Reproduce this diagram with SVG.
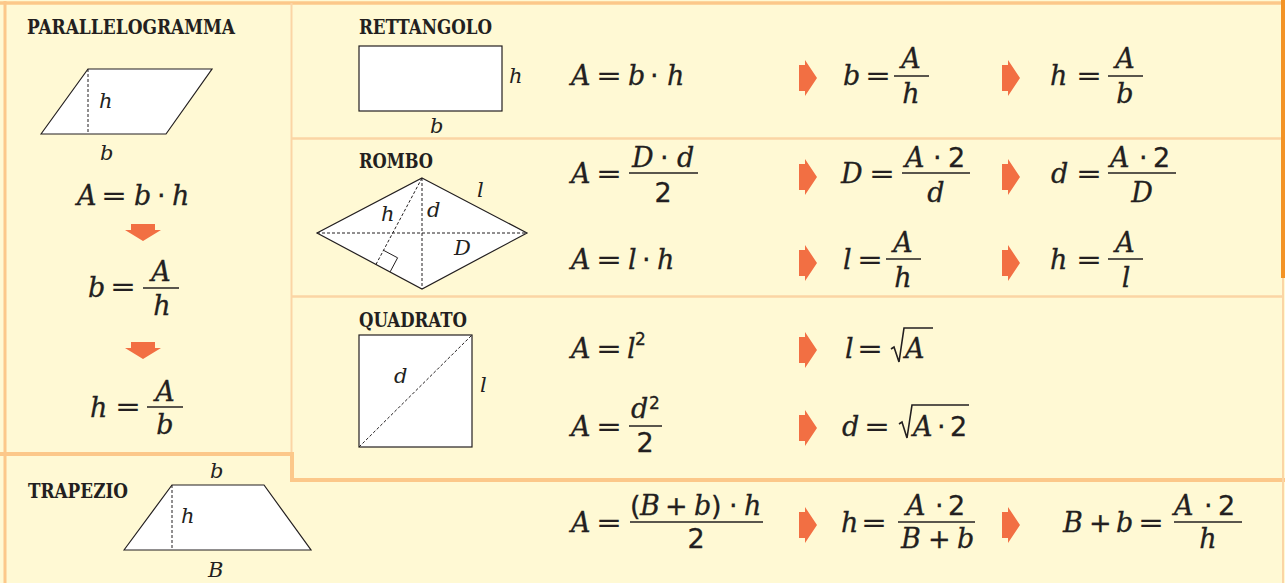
<svg xmlns="http://www.w3.org/2000/svg" xmlns:xlink="http://www.w3.org/1999/xlink" width="1285" height="583" viewBox="0 0 1285 583">
<style>
.lab{font-family:"DejaVu Serif Condensed","DejaVu Serif",serif;font-weight:bold;font-size:20px;fill:#231F20}
.v{font-family:"DejaVu Serif","Liberation Serif",serif;font-style:italic;font-size:27px;fill:#231F20;stroke:#231F20;stroke-width:0.3}
.s{font-family:"DejaVu Serif","Liberation Serif",serif;font-style:italic;font-size:21px;fill:#231F20}
.u{font-family:"DejaVu Sans","Liberation Sans",sans-serif;font-style:normal}
.eq{font-family:"DejaVu Sans","Liberation Sans",sans-serif;font-size:27px;fill:#231F20}
.sup{font-family:"DejaVu Sans","Liberation Sans",sans-serif;font-style:normal;font-size:17px}
.sh{fill:#fff;stroke:#231F20;stroke-width:1.2}
.dash{fill:none;stroke:#231F20;stroke-width:1;stroke-dasharray:3 2}
.fl{stroke:#231F20;stroke-width:1.3}
.rad{fill:none;stroke:#231F20;stroke-width:1.6;stroke-linejoin:miter}
.bd{stroke:#FCC88A;fill:none}
.ar{fill:#F26F43}
</style>
<defs>
<polygon id="ra" points="0,-13 6,-13 6,-18 18,0 6,18 6,13 0,13"/>
<polygon id="da" points="-12,0 12,0 12,6 18,6 0,17 -18,6 -12,6"/>
</defs>
<rect x="0" y="0" width="1285" height="583" fill="#FFF9D4"/>
<g id="borders">
<line class="bd" x1="0" y1="3" x2="1283" y2="3" stroke-width="3.5"/>
<line class="bd" x1="5" y1="1" x2="5" y2="583" stroke-width="3"/>
<line x1="291.5" y1="3" x2="291.5" y2="480" stroke="#FBD5A5" stroke-width="2"/>
<line x1="291" y1="138.5" x2="1282" y2="138.5" stroke="#FBD5A5" stroke-width="2.5"/>
<line x1="291" y1="296.5" x2="1282" y2="296.5" stroke="#FBD5A5" stroke-width="2.5"/>
<line class="bd" x1="0" y1="454" x2="294" y2="454" stroke-width="4"/>
<line class="bd" x1="292" y1="452" x2="292" y2="482" stroke-width="4"/>
<line class="bd" x1="290" y1="480" x2="1285" y2="480" stroke-width="4"/>
<rect x="1281" y="0" width="4" height="278" fill="#F39325"/>
<line x1="1283" y1="278" x2="1283" y2="583" stroke="#FBD5A5" stroke-width="2"/>
</g>

<g id="parallelogramma">
<text class="lab" x="27" y="34" textLength="208" lengthAdjust="spacingAndGlyphs">PARALLELOGRAMMA</text>
<polygon class="sh" points="41,134 88,69 212,69 166,134"/>
<line class="dash" x1="88" y1="69" x2="88" y2="134"/>
<text class="s" x="99" y="108">h</text>
<text class="s" x="100" y="160">b</text>
<text class="v" y="205"><tspan x="77">A</tspan><tspan x="134">b</tspan><tspan class="u" x="157">·</tspan><tspan x="172">h</tspan></text>
<text class="eq" x="101" y="205" textLength="26" lengthAdjust="spacingAndGlyphs">=</text>
<text class="v" x="88" y="297">b</text>
<text class="eq" x="110" y="296" textLength="26" lengthAdjust="spacingAndGlyphs">=</text>
<line class="fl" x1="143" y1="288" x2="179" y2="288"/>
<text class="v" x="161" y="281" text-anchor="middle">A</text>
<text class="v" x="162" y="315" text-anchor="middle">h</text>
<text class="v" x="90" y="417">h</text>
<text class="eq" x="115" y="416" textLength="26" lengthAdjust="spacingAndGlyphs">=</text>
<line class="fl" x1="147" y1="407" x2="183" y2="407"/>
<text class="v" x="165" y="401" text-anchor="middle">A</text>
<text class="v" x="165" y="434" text-anchor="middle">b</text>
</g>

<g id="rettangolo">
<text class="lab" x="359" y="34" textLength="133" lengthAdjust="spacingAndGlyphs">RETTANGOLO</text>
<rect class="sh" x="359" y="46" width="143" height="65"/>
<text class="s" x="509" y="83">h</text>
<text class="s" x="430" y="133">b</text>
<text class="v" y="85"><tspan x="571">A</tspan><tspan x="628">b</tspan><tspan class="u" x="650">·</tspan><tspan x="667">h</tspan></text>
<text class="eq" x="596" y="85" textLength="26" lengthAdjust="spacingAndGlyphs">=</text>
<text class="v" x="843" y="85">b</text>
<text class="eq" x="865" y="85" textLength="26" lengthAdjust="spacingAndGlyphs">=</text>
<line class="fl" x1="894" y1="76" x2="929" y2="76"/>
<text class="v" x="911" y="68" text-anchor="middle">A</text>
<text class="v" x="911" y="103" text-anchor="middle">h</text>
<text class="v" x="1050" y="85">h</text>
<text class="eq" x="1076" y="85" textLength="26" lengthAdjust="spacingAndGlyphs">=</text>
<line class="fl" x1="1108" y1="76" x2="1143" y2="76"/>
<text class="v" x="1125" y="68" text-anchor="middle">A</text>
<text class="v" x="1125" y="103" text-anchor="middle">b</text>
</g>

<g id="rombo">
<text class="lab" x="359" y="168" textLength="74" lengthAdjust="spacingAndGlyphs">ROMBO</text>
<polygon class="sh" points="422,178 527,233 422,289 317,233"/>
<line class="dash" x1="317" y1="233" x2="527" y2="233"/>
<line class="dash" x1="422" y1="178" x2="422" y2="289"/>
<line class="dash" x1="422" y1="178" x2="376" y2="264.4"/>
<polyline fill="none" stroke="#231F20" stroke-width="1" points="390.1,271.9 397.6,257.8 383.5,250.3"/>
<text class="s" x="381" y="221">h</text>
<text class="s" x="427" y="217">d</text>
<text class="s" x="477" y="197">l</text>
<text class="s" x="454" y="255">D</text>
<text class="v" x="571" y="183">A</text>
<text class="eq" x="596" y="183" textLength="26" lengthAdjust="spacingAndGlyphs">=</text>
<line class="fl" x1="629" y1="173" x2="698" y2="173"/>
<text class="v" y="167"><tspan x="632">D</tspan><tspan class="u" x="660">·</tspan><tspan x="677">d</tspan></text>
<text class="v u" x="663" y="202" text-anchor="middle">2</text>
<text class="v" y="269"><tspan x="571">A</tspan><tspan x="628">l</tspan><tspan class="u" x="642">·</tspan><tspan x="657">h</tspan></text>
<text class="eq" x="596" y="269" textLength="26" lengthAdjust="spacingAndGlyphs">=</text>
<text class="v" x="841" y="183">D</text>
<text class="eq" x="869" y="183" textLength="26" lengthAdjust="spacingAndGlyphs">=</text>
<line class="fl" x1="902" y1="173" x2="970" y2="173"/>
<text class="v" y="167"><tspan x="905">A</tspan><tspan class="u" x="933">·</tspan><tspan class="u" x="948">2</tspan></text>
<text class="v" x="936" y="202" text-anchor="middle">d</text>
<text class="v" x="1051" y="183">d</text>
<text class="eq" x="1076" y="183" textLength="26" lengthAdjust="spacingAndGlyphs">=</text>
<line class="fl" x1="1108" y1="173" x2="1176" y2="173"/>
<text class="v" y="167"><tspan x="1110">A</tspan><tspan class="u" x="1139">·</tspan><tspan class="u" x="1153">2</tspan></text>
<text class="v" x="1142" y="202" text-anchor="middle">D</text>
<text class="v" x="843" y="269">l</text>
<text class="eq" x="857" y="269" textLength="26" lengthAdjust="spacingAndGlyphs">=</text>
<line class="fl" x1="886" y1="259" x2="921" y2="259"/>
<text class="v" x="903" y="252" text-anchor="middle">A</text>
<text class="v" x="903" y="287" text-anchor="middle">h</text>
<text class="v" x="1050" y="269">h</text>
<text class="eq" x="1076" y="269" textLength="26" lengthAdjust="spacingAndGlyphs">=</text>
<line class="fl" x1="1108" y1="259" x2="1143" y2="259"/>
<text class="v" x="1125" y="252" text-anchor="middle">A</text>
<text class="v" x="1126" y="287" text-anchor="middle">l</text>
</g>

<g id="quadrato">
<text class="lab" x="359" y="327" textLength="108" lengthAdjust="spacingAndGlyphs">QUADRATO</text>
<rect class="sh" x="359" y="335" width="113" height="112"/>
<line class="dash" x1="359" y1="447" x2="472" y2="335"/>
<text class="s" x="394" y="383">d</text>
<text class="s" x="480" y="392">l</text>
<text class="v" y="358"><tspan x="571">A</tspan><tspan x="627">l</tspan><tspan class="sup" x="635" y="345">2</tspan></text>
<text class="eq" x="596" y="358" textLength="26" lengthAdjust="spacingAndGlyphs">=</text>
<text class="v" x="571" y="436">A</text>
<text class="eq" x="596" y="436" textLength="26" lengthAdjust="spacingAndGlyphs">=</text>
<line class="fl" x1="629" y1="426" x2="662" y2="426"/>
<text class="v" y="418"><tspan x="631">d</tspan><tspan class="sup" x="649" y="409">2</tspan></text>
<text class="v u" x="645" y="452" text-anchor="middle">2</text>
<text class="v" y="358"><tspan x="845">l</tspan><tspan x="905">A</tspan></text>
<text class="eq" x="857" y="358" textLength="26" lengthAdjust="spacingAndGlyphs">=</text>
<polyline class="rad" points="891,349 894,347 899,362 904,328 933,328"/>
<text class="v" y="436"><tspan x="842">d</tspan><tspan x="913">A</tspan><tspan class="u" x="937">·</tspan><tspan class="u" x="950">2</tspan></text>
<text class="eq" x="864" y="436" textLength="26" lengthAdjust="spacingAndGlyphs">=</text>
<polyline class="rad" points="899,424 902,422 907,438 912,405 969,405"/>
</g>

<g id="trapezio">
<text class="lab" x="28" y="498" textLength="100" lengthAdjust="spacingAndGlyphs">TRAPEZIO</text>
<polygon class="sh" points="124,550 172,485 264,485 311,550"/>
<line class="dash" x1="172" y1="485" x2="172" y2="550"/>
<text class="s" x="210" y="478">b</text>
<text class="s" x="181" y="523">h</text>
<text class="s" x="208" y="577">B</text>
<text class="v" x="571" y="532">A</text>
<text class="eq" x="596" y="532" textLength="26" lengthAdjust="spacingAndGlyphs">=</text>
<line class="fl" x1="630" y1="522" x2="763" y2="522"/>
<text class="v" y="515"><tspan class="u" x="630">(</tspan><tspan x="640">B</tspan><tspan class="u" x="665">+</tspan><tspan x="694">b</tspan><tspan class="u" x="711">)</tspan><tspan class="u" x="729">·</tspan><tspan x="744">h</tspan></text>
<text class="v u" x="696" y="548" text-anchor="middle">2</text>
<text class="v" x="841" y="532">h</text>
<text class="eq" x="861" y="532" textLength="26" lengthAdjust="spacingAndGlyphs">=</text>
<line class="fl" x1="898" y1="522" x2="975" y2="522"/>
<text class="v" y="515"><tspan x="906">A</tspan><tspan class="u" x="935">·</tspan><tspan class="u" x="948">2</tspan></text>
<text class="v" y="548"><tspan x="901">B</tspan><tspan class="u" x="928">+</tspan><tspan x="957">b</tspan></text>
<text class="v" y="532"><tspan x="1063">B</tspan><tspan class="u" x="1089">+</tspan><tspan x="1116">b</tspan></text>
<text class="eq" x="1138" y="532" textLength="26" lengthAdjust="spacingAndGlyphs">=</text>
<line class="fl" x1="1174" y1="522" x2="1242" y2="522"/>
<text class="v" y="515"><tspan x="1174">A</tspan><tspan class="u" x="1204">·</tspan><tspan class="u" x="1218">2</tspan></text>
<text class="v" x="1208" y="548" text-anchor="middle">h</text>
</g>

<g id="connectors" class="ar">
<use xlink:href="#da" x="143" y="224"/>
<use xlink:href="#da" x="143" y="342"/>
<use xlink:href="#ra" x="799" y="78"/>
<use xlink:href="#ra" x="1002" y="78"/>
<use xlink:href="#ra" x="799" y="177"/>
<use xlink:href="#ra" x="1002" y="177"/>
<use xlink:href="#ra" x="799" y="263"/>
<use xlink:href="#ra" x="1002" y="263"/>
<use xlink:href="#ra" x="799" y="350"/>
<use xlink:href="#ra" x="799" y="428"/>
<use xlink:href="#ra" x="799" y="525"/>
<use xlink:href="#ra" x="1002" y="525"/>
</g>
</svg>
